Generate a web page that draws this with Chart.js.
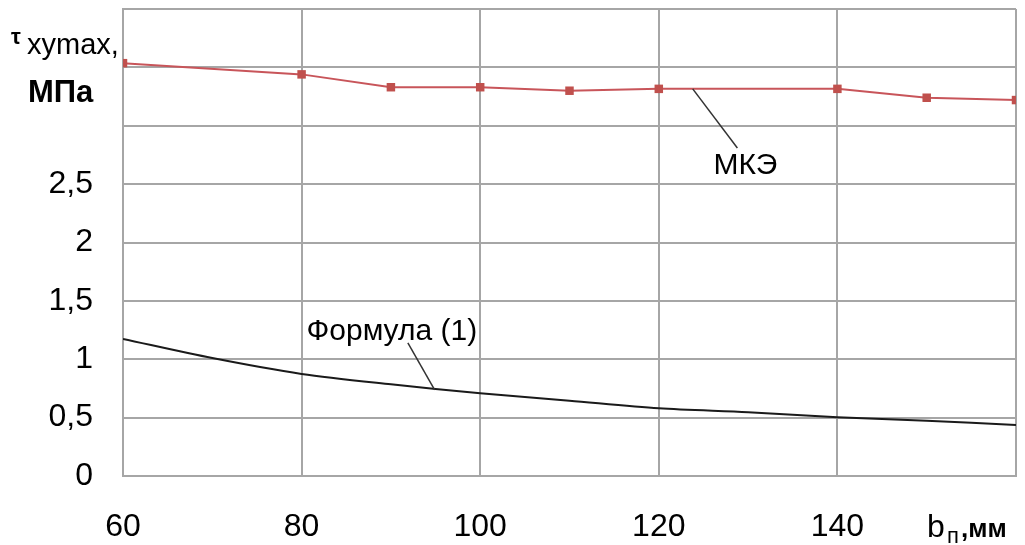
<!DOCTYPE html>
<html>
<head>
<meta charset="utf-8">
<script src="https://cdn.jsdelivr.net/npm/chart.js@4.4.0/dist/chart.umd.min.js"></script>
<style>
  html, body { margin: 0; padding: 0; background: #fff; }
  canvas { display: block; }
</style>
</head>
<body>
<canvas id="chart" width="1025" height="545"></canvas>
<script>
// values
const mkeX = [60, 80, 90, 100, 110, 120, 140, 150, 160];
const mkeY = [3.536, 3.44, 3.33, 3.33, 3.30, 3.316, 3.316, 3.24, 3.22];

const formulaX = [60, 70, 80, 90, 100, 110, 120, 130, 140, 150, 160];
const formulaY = [1.174, 1.01, 0.874, 0.785, 0.709, 0.645, 0.58, 0.546, 0.503, 0.474, 0.437];

const xTicks = [60, 80, 100, 120, 140, 160];
const yTicks = [0, 0.5, 1, 1.5, 2, 2.5];

const gridColor = '#a6a6a6';
const font = '"Liberation Sans", Arial, sans-serif';

// callout labels: text anchor and leader line, in data units
const callouts = [
  { text: 'МКЭ', at: [129.7, 2.66], from: [123.8, 3.316], to: [128.8, 2.81] },
  { text: 'Формула (1)', at: [90.1, 1.234], from: [91.9, 1.14], to: [94.9, 0.737] }
];

const labelsPlugin = {
  id: 'labels',
  afterDraw(chart) {
    const ctx = chart.ctx;
    const xs = chart.scales.x, ys = chart.scales.y;
    ctx.save();
    ctx.fillStyle = '#000';
    ctx.strokeStyle = '#333';
    ctx.lineWidth = 1.5;
    callouts.forEach(c => {
      ctx.beginPath();
      ctx.moveTo(xs.getPixelForValue(c.from[0]), ys.getPixelForValue(c.from[1]));
      ctx.lineTo(xs.getPixelForValue(c.to[0]), ys.getPixelForValue(c.to[1]));
      ctx.stroke();
      ctx.font = '30px ' + font;
      ctx.textAlign = 'center';
      ctx.textBaseline = 'middle';
      ctx.fillText(c.text, xs.getPixelForValue(c.at[0]), ys.getPixelForValue(c.at[1]));
    });

    // y axis title
    ctx.textAlign = 'left';
    ctx.textBaseline = 'alphabetic';
    ctx.font = 'bold 22px ' + font;
    ctx.fillText('τ', 11, 44);
    ctx.font = '29px ' + font;
    ctx.fillText('xymax,', 27, 54);
    ctx.font = 'bold 31px ' + font;
    ctx.fillText('МПа', 28, 102);

    // x axis title in place of the last tick
    ctx.font = '32px ' + font;
    ctx.fillText('b', 927, 537);
    ctx.font = '22px ' + font;
    ctx.fillText('п', 947, 543);
    ctx.font = 'bold 26px ' + font;
    ctx.fillText(',мм', 961, 537);
    ctx.restore();
  }
};

new Chart(document.getElementById('chart'), {
  type: 'line',
  data: {
    datasets: [
      {
        label: 'МКЭ',
        data: mkeX.map((x, i) => ({ x: x, y: mkeY[i] })),
        borderColor: '#c8555a',
        backgroundColor: '#c0504d',
        borderWidth: 2,
        pointStyle: 'rect',
        pointRadius: 6,
        pointBorderWidth: 0,
        tension: 0
      },
      {
        label: 'Формула (1)',
        data: formulaX.map((x, i) => ({ x: x, y: formulaY[i] })),
        borderColor: '#1a1a1a',
        borderWidth: 2,
        pointRadius: 0,
        tension: 0.3
      }
    ]
  },
  options: {
    responsive: false,
    animation: false,
    layout: { padding: { top: 9, right: 9, left: 0, bottom: 0 } },
    plugins: {
      legend: { display: false },
      tooltip: { enabled: false }
    },
    scales: {
      x: {
        type: 'linear',
        min: 60,
        max: 160,
        afterFit(scale) {
          scale.height = 69;
          scale.paddingLeft = 0;
          scale.paddingRight = 0;
        },
        afterBuildTicks(scale) { scale.ticks = xTicks.map(v => ({ value: v })); },
        grid: { color: gridColor, lineWidth: 2, drawTicks: false },
        border: { color: gridColor, width: 2 },
        ticks: {
          padding: 32,
          color: '#000',
          font: { family: font, size: 32 },
          maxRotation: 0,
          callback: v => (v === 160 ? '' : String(v))
        }
      },
      y: {
        min: 0,
        max: 4,
        afterFit(scale) {
          scale.width = 123;
          scale.paddingTop = 0;
          scale.paddingBottom = 0;
        },
        grid: { color: gridColor, lineWidth: 2, drawTicks: false },
        border: { color: gridColor, width: 2 },
        ticks: {
          stepSize: 0.5,
          padding: 30,
          color: '#000',
          font: { family: font, size: 32 },
          callback: v => (yTicks.includes(v) ? String(v).replace('.', ',') : '')
        }
      }
    }
  },
  plugins: [labelsPlugin]
});
</script>
</body>
</html>
